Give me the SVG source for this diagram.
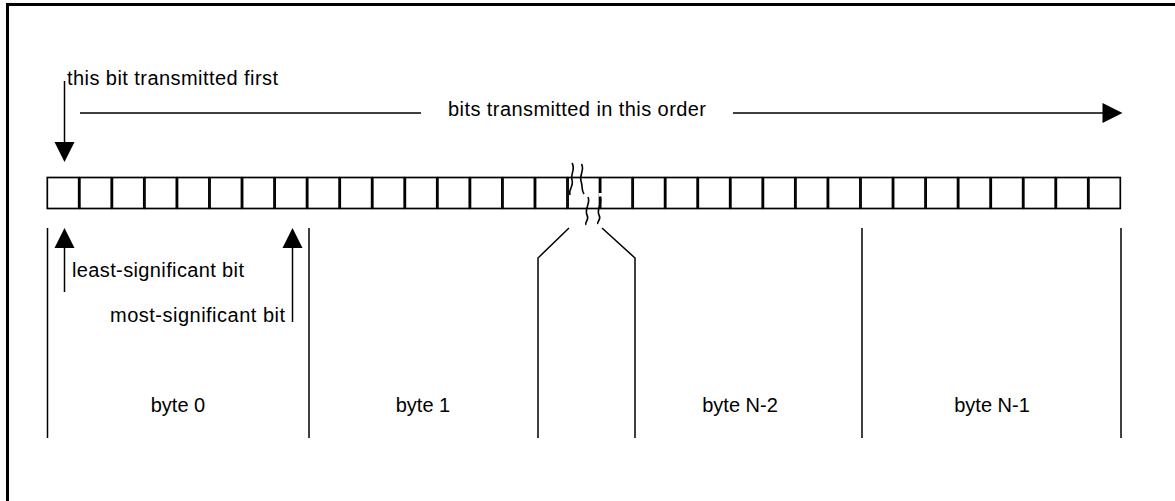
<svg xmlns="http://www.w3.org/2000/svg" width="1175" height="501" viewBox="0 0 1175 501">
  <defs>
    <style>
      .txt { font-family: "Liberation Sans", Arial, sans-serif; font-size: 20px; fill: #000; }
      .cell { fill: #fff; stroke: #000; stroke-width: 1.7; }
      .ln { fill: none; stroke: #000; stroke-width: 1.5; }
      .frame { fill: none; stroke: #000; stroke-width: 3; }
      .wave { fill: none; stroke: #000; stroke-width: 1.6; }
      .head { fill: #000; }
    </style>
  </defs>
  <rect width="1175" height="501" fill="#fff"/>

  <!-- page frame: top and left rules only -->
  <path class="frame" d="M7.5,501 V4.5 H1175"/>

  <!-- row of bit cells -->
  <g id="bit-row">
    <rect class="cell" x="47.3" y="177.5" width="31.4" height="31"/>
    <rect class="cell" x="79.85" y="177.5" width="31.4" height="31"/>
    <rect class="cell" x="112.4" y="177.5" width="31.4" height="31"/>
    <rect class="cell" x="144.95" y="177.5" width="31.4" height="31"/>
    <rect class="cell" x="177.5" y="177.5" width="31.4" height="31"/>
    <rect class="cell" x="210.05" y="177.5" width="31.4" height="31"/>
    <rect class="cell" x="242.6" y="177.5" width="31.4" height="31"/>
    <rect class="cell" x="275.15" y="177.5" width="31.4" height="31"/>
    <rect class="cell" x="307.7" y="177.5" width="31.4" height="31"/>
    <rect class="cell" x="340.25" y="177.5" width="31.4" height="31"/>
    <rect class="cell" x="372.8" y="177.5" width="31.4" height="31"/>
    <rect class="cell" x="405.35" y="177.5" width="31.4" height="31"/>
    <rect class="cell" x="437.9" y="177.5" width="31.4" height="31"/>
    <rect class="cell" x="470.45" y="177.5" width="31.4" height="31"/>
    <rect class="cell" x="503" y="177.5" width="31.4" height="31"/>
    <rect class="cell" x="535.55" y="177.5" width="31.4" height="31"/>
    <rect class="cell" x="568.1" y="177.5" width="31.4" height="31"/>
    <rect class="cell" x="600.65" y="177.5" width="31.4" height="31"/>
    <rect class="cell" x="633.2" y="177.5" width="31.4" height="31"/>
    <rect class="cell" x="665.75" y="177.5" width="31.4" height="31"/>
    <rect class="cell" x="698.3" y="177.5" width="31.4" height="31"/>
    <rect class="cell" x="730.85" y="177.5" width="31.4" height="31"/>
    <rect class="cell" x="763.4" y="177.5" width="31.4" height="31"/>
    <rect class="cell" x="795.95" y="177.5" width="31.4" height="31"/>
    <rect class="cell" x="828.5" y="177.5" width="31.4" height="31"/>
    <rect class="cell" x="861.05" y="177.5" width="31.4" height="31"/>
    <rect class="cell" x="893.6" y="177.5" width="31.4" height="31"/>
    <rect class="cell" x="926.15" y="177.5" width="31.4" height="31"/>
    <rect class="cell" x="958.7" y="177.5" width="31.4" height="31"/>
    <rect class="cell" x="991.25" y="177.5" width="31.4" height="31"/>
    <rect class="cell" x="1023.8" y="177.5" width="31.4" height="31"/>
    <rect class="cell" x="1056.35" y="177.5" width="31.4" height="31"/>
    <rect class="cell" x="1088.9" y="177.5" width="31.4" height="31"/>
  </g>

  <!-- break marks across the row -->
  <g id="row-break">
    <rect x="598.5" y="193" width="4" height="3.5" fill="#fff"/>
    <path class="wave" d="M572,163 C576,169 570,174 572,180 C574,186 568,190 570,195"/>
    <path class="wave" d="M581.5,164 C585,170 579,175 581,181 C583,187 581,190 584,194"/>
    <path class="wave" d="M588,197 C591,203 584,209 587,215 C590,220 584,222 586,225"/>
    <path class="wave" d="M600,197 C603,203 596,209 599,215 C602,220 596,222 598,224"/>
  </g>

  <!-- connectors: arrows, byte boundaries -->
  <g id="connectors">
    <!-- first-bit pointer -->
    <line class="ln" x1="64.5" y1="81" x2="64.5" y2="143"/>
    <path class="head" d="M54.5,142 H74.5 L64.5,162 Z"/>
    <!-- transmission order -->
    <line class="ln" x1="80" y1="113" x2="421" y2="113"/>
    <line class="ln" x1="733" y1="113" x2="1104" y2="113"/>
    <path class="head" d="M1102.5,103 L1122.5,113 L1102.5,123 Z"/>
    <!-- least-significant bit pointer -->
    <line class="ln" x1="64.5" y1="292" x2="64.5" y2="246"/>
    <path class="head" d="M54.5,248 H74.5 L64.5,228 Z"/>
    <!-- most-significant bit pointer -->
    <line class="ln" x1="292.5" y1="322" x2="292.5" y2="246"/>
    <path class="head" d="M282.5,248 H302.5 L292.5,228 Z"/>
    <!-- byte boundaries -->
    <line class="ln" x1="47.5" y1="228" x2="47.5" y2="438"/>
    <line class="ln" x1="309" y1="228" x2="309" y2="438"/>
    <path class="ln" d="M569,228 L538,258 V438"/>
    <path class="ln" d="M602,228 L635,258 V438"/>
    <line class="ln" x1="862" y1="228" x2="862" y2="438"/>
    <line class="ln" x1="1121" y1="228" x2="1121" y2="438"/>
  </g>

  <g id="label-first"><text class="txt" x="67" y="85" textLength="211" lengthAdjust="spacing">this bit transmitted first</text></g>
  <g id="label-order"><text class="txt" x="448" y="116" textLength="258" lengthAdjust="spacing">bits transmitted in this order</text></g>
  <g id="label-lsb"><text class="txt" x="72" y="277" textLength="172" lengthAdjust="spacing">least-significant bit</text></g>
  <g id="label-msb"><text class="txt" x="110" y="322" textLength="175" lengthAdjust="spacing">most-significant bit</text></g>

  <g id="byte-0"><text class="txt" x="178" y="412" text-anchor="middle">byte 0</text></g>
  <g id="byte-1"><text class="txt" x="423" y="412" text-anchor="middle">byte 1</text></g>
  <g id="byte-n-2"><text class="txt" x="740" y="412" text-anchor="middle">byte N-2</text></g>
  <g id="byte-n-1"><text class="txt" x="992" y="412" text-anchor="middle">byte N-1</text></g>
</svg>
